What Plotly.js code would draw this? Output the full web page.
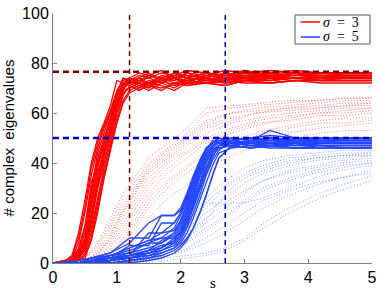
<!DOCTYPE html>
<html>
<head>
<meta charset="utf-8">
<script src="https://cdn.plot.ly/plotly-3.0.1.min.js"></script>
<style>html,body{margin:0;padding:0;background:#fff;}#chart{width:380px;height:294px;}</style>
</head>
<body>
<div id="chart"></div>
<script>
// ---- data ----
const RS_X = [0, 0.2, 0.3, 0.4, 0.5, 0.6, 0.7, 0.8, 0.9, 1.0, 1.1, 1.2, 1.35, 1.5, 1.7, 1.9, 2.1, 2.4, 2.7, 3.0, 3.4, 3.8, 4.2, 4.6, 5.0];
const redSolid = [
  [0,0,1,4,10,24,38,48,56,64,70,72,70,73,72,74,71,74,73,75,74,74,75,74,74],
  [0,0,0,2,6,16,30,42,52,62,69,73,72,70,74,73,76,73,74,73,75,74,74,75,75],
  [0,1,3,10,22,38,48,55,61,69,73,74,76,75,77,74,76,75,77,76,77,76,76,76,76],
  [0,0,0,1,3,10,22,35,46,56,65,69,71,69,72,70,73,72,71,73,73,74,73,73,73],
  [0,0,2,6,15,30,44,52,60,68,74,72,74,76,73,75,77,76,75,76,76,77,76,76,76],
  [0,0,1,3,8,20,34,46,54,64,71,73,71,72,74,72,73,74,72,74,73,74,73,74,74],
  [0,0,0,2,5,14,26,38,48,60,68,70,72,70,73,71,72,73,74,73,72,73,73,73,73],
  [0,1,2,8,20,35,46,54,60,67,72,74,72,75,73,76,74,76,75,75,76,75,76,75,75],
  [0,0,0,1,4,12,24,36,46,58,67,71,69,71,70,72,73,72,73,72,72,73,72,72,72],
  [0,0,2,5,12,28,42,50,58,68,74,73,75,74,76,75,74,76,75,77,75,75,76,76,76],
  [0,0,1,3,9,22,36,45,53,63,70,72,74,71,73,74,72,75,74,74,75,74,74,74,74],
  [0,0,0,2,7,18,30,40,50,62,69,70,72,71,69,72,71,72,73,74,73,74,74,74,74],
  [0,0,0,1,2,9,20,34,45,56,64,68,70,72,71,69,72,72,71,73,72,73,73,73,73],
  [0,1,3,12,25,40,50,56,63,73,72,71,73,75,74,76,75,74,76,75,75,75,75,75,75],
  [0,0,1,4,10,26,40,49,56,65,70,73,74,72,75,74,73,75,74,76,75,76,75,75,75],
  [0,0,0,3,8,18,32,44,52,63,71,74,73,71,74,73,75,74,73,75,74,74,75,75,75],
  [0,0,1,5,14,32,40,47,57,66,72,71,69,72,73,71,74,73,72,73,74,74,74,74,74],
  [0,0,0,2,6,17,31,43,54,64,70,72,73,74,72,75,74,73,75,74,75,74,74,75,75]
];
const RD_X = [0, 0.3, 0.5, 0.7, 0.9, 1.1, 1.3, 1.5, 1.8, 2.1, 2.4, 2.8, 3.2, 3.7, 4.2, 4.6, 5.0];
const redDotted = [
  [0,0,1,4,10,20,28,36,42,48,54,57,60,62,63,64,64],
  [0,0,0,2,6,12,20,28,36,42,48,52,55,58,60,61,62],
  [0,1,2,7,16,26,33,40,46,52,60,62,63,64,65,66,66],
  [0,0,0,1,3,8,14,22,30,36,42,46,49,52,54,55,56],
  [0,0,1,5,12,22,30,38,44,50,56,60,61,62,62,63,63],
  [0,0,0,3,8,16,24,32,40,45,50,54,57,59,60,60,61],
  [0,0,1,2,5,10,18,26,33,39,45,49,52,55,57,58,58],
  [0,1,2,8,18,28,35,42,48,54,62,63,64,65,65,66,66],
  [0,0,0,1,2,6,10,18,26,31,38,43,47,50,52,53,53],
  [0,0,1,4,9,18,26,34,41,47,52,56,58,60,61,62,62],
  [0,0,0,2,7,14,22,30,38,44,49,53,56,57,59,59,60],
  [0,0,1,3,11,21,29,37,43,49,55,58,60,61,62,63,64],
  [0,0,0,1,4,9,16,24,32,38,44,48,51,54,56,56,57],
  [0,0,2,6,14,24,31,39,45,51,57,60,62,63,64,65,65]
];
const BS_X = [0, 0.4, 0.6, 0.9, 1.2, 1.5, 1.7, 1.9, 2.0, 2.1, 2.2, 2.3, 2.4, 2.5, 2.6, 2.8, 3.1, 3.4, 3.8, 4.2, 4.6, 5.0];
const blueSolid = [
  [0,0,1,2,3,5,6,9,13,19,26,34,40,45,47,48,49,48,49,48,48,48],
  [0,0,0,1,2,3,4,6,9,14,20,27,35,41,45,49,48,50,49,49,50,50],
  [0,0,1,3,5,8,10,14,19,25,32,39,44,47,48,48,47,47,48,47,47,47],
  [0,0,0,0,1,2,3,5,7,10,14,20,27,35,42,47,48,48,47,48,48,48],
  [0,0,2,4,10,10,19,19,22,28,35,41,46,48,50,49,50,51,50,50,50,50],
  [0,0,0,1,2,4,5,8,11,16,23,31,38,44,47,47,48,47,48,47,47,47],
  [0,0,1,2,4,8,8,12,16,22,29,37,43,47,49,50,49,53,50,49,49,49],
  [0,0,0,0,1,2,4,6,8,12,18,25,32,39,44,46,47,46,46,46,46,46],
  [0,0,1,2,3,12,12,13,17,24,31,38,44,47,48,49,48,49,50,49,49,49],
  [0,0,0,1,3,4,6,9,12,18,25,32,40,45,47,48,47,48,48,48,48,48],
  [0,0,1,3,6,9,12,16,20,27,34,41,45,49,48,47,49,48,47,49,48,48],
  [0,0,0,2,2,3,5,7,10,15,22,29,36,42,47,49,50,49,50,50,50,50],
  [0,0,0,0,0,1,2,4,6,9,14,20,27,35,42,47,48,47,47,47,47,47],
  [0,0,1,2,7,7,16,16,20,26,33,40,45,48,49,48,48,49,48,48,48,48],
  [0,0,0,1,2,4,6,10,14,20,27,35,41,46,48,50,49,50,49,50,49,49],
  [0,0,2,3,4,6,8,11,15,21,28,36,42,46,46,47,46,47,46,46,46,46],
  [0,0,0,1,3,5,7,8,11,17,24,31,38,44,47,48,48,48,49,48,48,48],
  [0,0,1,2,3,5,9,12,17,23,30,37,43,47,49,49,50,49,49,49,49,49],
  [0,1,2,4,8,16,19,19,21,27,33,40,46,48,50,48,49,50,49,49,49,49],
  [0,0,1,3,6,9,10,10,12,17,23,30,37,43,46,47,46,47,46,47,46,46]
];
const BD_X = [0, 0.5, 1.0, 1.4, 1.8, 2.1, 2.4, 2.7, 3.0, 3.3, 3.7, 4.1, 4.5, 5.0];
const blueDotted = [
  [0,0,1,3,8,14,20,26,32,36,39,41,42,43],
  [0,0,0,1,4,8,13,18,24,29,33,36,38,40],
  [0,0,2,5,11,18,26,33,38,41,43,44,45,45],
  [0,0,0,1,2,3,4,6,10,16,22,27,31,35],
  [0,0,1,2,6,12,24,24,24,26,30,34,37,39],
  [0,0,0,2,5,10,16,22,28,33,37,39,41,42],
  [0,0,1,4,9,16,22,30,35,38,41,42,43,44],
  [0,0,0,0,1,2,3,5,9,14,20,25,29,33],
  [0,0,1,3,7,12,18,24,29,33,36,38,40,41],
  [0,0,0,1,3,6,10,15,20,25,29,32,34,36],
  [0,0,1,2,6,11,17,28,34,37,40,42,43,43],
  [0,0,0,1,4,9,14,19,25,30,34,37,39,40],
  [0,0,0,2,3,5,8,12,17,22,27,31,34,37],
  [0,1,2,4,10,17,24,31,36,39,42,43,44,44]
];
const LEVEL_RED = 76.5, LEVEL_BLUE = 50;
const S_RED = 1.2, S_BLUE = 2.7;
const LEGEND_NAMES = ['<i>σ</i>\u2002=\u20023', '<i>σ</i>\u2002=\u20025'];

// ---- styles ----
const RED = 'rgb(255,0,0)';
const BLUE = 'rgb(35,70,255)';
const RED_DOT = 'rgba(255,30,30,0.62)';
const BLUE_DOT = 'rgba(50,80,255,0.62)';
const DARKRED = 'rgb(128,0,0)';
const DARKBLUE = 'rgb(0,0,205)';

const traces = [];
redDotted.forEach(y => traces.push({x: RD_X, y: y, mode: 'lines', showlegend: false, hoverinfo: 'skip',
  line: {color: RED_DOT, width: 1, dash: '1px,2px'}}));
blueDotted.forEach(y => traces.push({x: BD_X, y: y, mode: 'lines', showlegend: false, hoverinfo: 'skip',
  line: {color: BLUE_DOT, width: 1, dash: '1px,2px'}}));
redSolid.forEach((y, i) => traces.push({x: RS_X, y: y, mode: 'lines', name: LEGEND_NAMES[0],
  showlegend: false, line: {color: RED, width: 1.3}}));
blueSolid.forEach((y, i) => traces.push({x: BS_X, y: y, mode: 'lines', name: LEGEND_NAMES[1],
  showlegend: false, line: {color: BLUE, width: 1.3}}));
// reference lines
traces.push({x: [0, 5], y: [LEVEL_RED, LEVEL_RED], mode: 'lines', showlegend: false,
  line: {color: DARKRED, width: 2.5, dash: '6px,4px'}});
traces.push({x: [0, 5], y: [LEVEL_BLUE, LEVEL_BLUE], mode: 'lines', showlegend: false,
  line: {color: DARKBLUE, width: 2.5, dash: '6px,4px'}});
traces.push({x: [S_RED, S_RED], y: [0, 100], mode: 'lines', showlegend: false,
  line: {color: DARKRED, width: 1.5, dash: '5px,4px'}});
traces.push({x: [S_BLUE, S_BLUE], y: [0, 100], mode: 'lines', showlegend: false,
  line: {color: DARKBLUE, width: 1.5, dash: '5px,4px'}});

// legend drawn as shapes + annotations (paper coordinates)
const legendFont = {family: 'Liberation Serif, DejaVu Serif, serif', size: 14, color: '#000'};
const shapes = [
  {type: 'rect', xref: 'paper', yref: 'paper', x0: 0.7586, x1: 0.9937, y0: 0.876, y1: 0.992,
    line: {color: 'rgb(90,90,90)', width: 1}, fillcolor: '#fff', layer: 'above'},
  {type: 'line', xref: 'paper', yref: 'paper', x0: 0.777, x1: 0.837, y0: 0.964, y1: 0.964,
    line: {color: RED, width: 1.5}, layer: 'above'},
  {type: 'line', xref: 'paper', yref: 'paper', x0: 0.777, x1: 0.837, y0: 0.904, y1: 0.904,
    line: {color: BLUE, width: 1.5}, layer: 'above'}
];
const annotations = [
  {text: LEGEND_NAMES[0], xref: 'paper', yref: 'paper', x: 0.843, y: 0.964, xanchor: 'left', yanchor: 'middle',
    showarrow: false, font: legendFont, borderpad: 0},
  {text: LEGEND_NAMES[1], xref: 'paper', yref: 'paper', x: 0.843, y: 0.904, xanchor: 'left', yanchor: 'middle',
    showarrow: false, font: legendFont, borderpad: 0},
  {text: 's', xref: 'paper', yref: 'paper', x: 0.5, y: -0.078, yanchor: 'middle',
    showarrow: false, font: {family: 'Liberation Serif, DejaVu Serif, serif', size: 15, color: '#000'}}
];

const layout = {
  width: 380, height: 294,
  margin: {l: 53, r: 8, t: 13, b: 31},
  paper_bgcolor: '#fff', plot_bgcolor: '#fff',
  font: {family: 'Liberation Sans, Arial, sans-serif', size: 16, color: '#000'},
  xaxis: {range: [0, 5], dtick: 1, tick0: 0, ticks: 'inside', ticklen: 4, tickcolor: 'rgb(128,128,128)',
    showline: true, linecolor: 'rgb(128,128,128)', linewidth: 1, showgrid: false, zeroline: false,
    tickfont: {size: 16}, fixedrange: true},
  yaxis: {range: [0, 100], dtick: 20, tick0: 0, ticks: 'inside', ticklen: 4, tickcolor: 'rgb(128,128,128)',
    showline: true, linecolor: 'rgb(128,128,128)', linewidth: 1, showgrid: false, zeroline: false,
    tickfont: {size: 16}, title: {text: '# complex  eigenvalues', font: {size: 15}, standoff: 4},
    automargin: false, fixedrange: true},
  shapes: shapes,
  annotations: annotations,
  showlegend: false
};
Plotly.newPlot('chart', traces, layout, {displayModeBar: false, staticPlot: true});
</script>
</body>
</html>
